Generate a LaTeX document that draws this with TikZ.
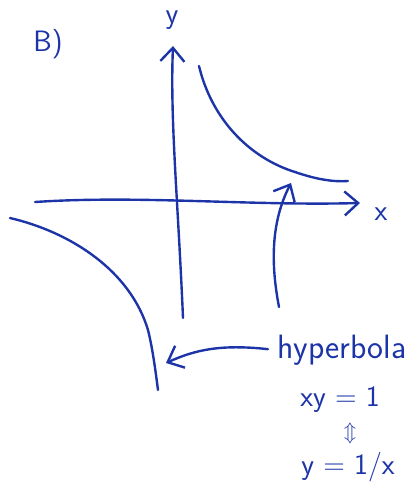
\documentclass[tikz,border=0pt]{standalone}
\usepackage{tikz}
\usetikzlibrary{arrows.meta,positioning}
\definecolor{penblue}{RGB}{28,52,168}
\tikzset{
      pen/.style={
        draw=penblue,
        line width=1.7pt,
        line cap=round,
        line join=round
      },
      handtext/.style={
        text=penblue,
        font=\sffamily\fontsize{21}{24}\selectfont,
        inner sep=1pt
      },
      barb/.style={-{Straight Barb[length=3.4mm,width=6mm]}}
    }
\begin{document}
\begin{tikzpicture}[x=0.025cm,y=-0.025cm]
    \useasboundingbox (0,0) rectangle (416,488);
    % labels
    \node[handtext] (part) at (48,44) {B)};
    \node[handtext] (ylab) at (172,20) {y};
    \node[handtext] (xlab) at (381,214) {x};
    \node[handtext, font=\sffamily\fontsize{24}{28}\selectfont] (hyp) at (342,350) {hyperbola};
    \node[handtext] (eq1) at (340,400) {xy = 1};
    \node[handtext, font=\fontsize{15}{17}\selectfont, inner sep=0pt] (equiv) at (350,433) {$\Updownarrow$};
    \node[handtext] (eq2) at (348,467) {y = 1/x};
    % axes
    \coordinate (yfoot) at (183,318);
    \coordinate (ytop) at (173,46);
    \coordinate (xfoot) at (35,202);
    \coordinate (xtip) at (360,203);
    \draw[pen, barb] (yfoot) .. controls (178,200) and (170,120) .. (ytop);
    \draw[pen, barb] (xfoot) .. controls (140,195) and (250,206) .. (xtip);
    % the two branches
    \draw[pen] (199,66) .. controls (212,120) and (250,158) .. (295,172)
      .. controls (318,180) and (335,182) .. (348,181);
    \draw[pen] (10,218) .. controls (70,232) and (130,270) .. (148,330)
      .. controls (153,350) and (156,375) .. (158,390);
    % pointers
    \coordinate (upper) at (291,183);
    \coordinate (lower) at (166,363);
    \coordinate (ptfoot) at (279,307);
    \draw[pen, barb] (ptfoot) .. controls (270,260) and (272,220) .. (upper);
    \draw[pen, barb, shorten <=0.2cm] (hyp.west) .. controls (220,344) and (195,350) .. (lower);
\end{tikzpicture}
\end{document}
